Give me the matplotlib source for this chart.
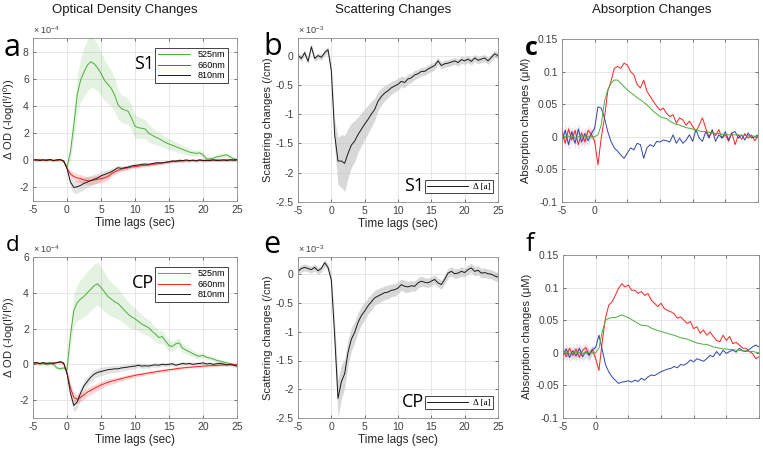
import numpy as np
import matplotlib
matplotlib.use('Agg')
import matplotlib.pyplot as plt
from matplotlib.ticker import FormatStrFormatter

plt.rcParams['font.family'] = ['Liberation Sans', 'DejaVu Sans']
plt.rcParams['mathtext.fontset'] = 'custom'
plt.rcParams['mathtext.rm'] = 'Liberation Sans'
plt.rcParams['mathtext.it'] = 'Liberation Sans:italic'
plt.rcParams['axes.unicode_minus'] = False

# time axis, -5 to 25 s in 0.5 s steps
t = np.arange(-5, 25.5, 0.5)

# ---- optical density, S1 (x 1e-4) ----
od_s1_525 = [0.05, 0.0, 0.08, -0.02, 0.05, 0.0, -0.05, 0.03, 0.05, -0.1,
             -0.5, 0.6, 2.6, 4.8, 5.9, 6.5, 7.0, 7.25, 7.1, 6.8,
             6.4, 5.9, 5.6, 5.3, 4.8, 4.1, 3.8, 3.7, 3.6, 3.1,
             2.5, 2.4, 2.35, 2.3, 2.0, 1.85, 1.7, 1.6, 1.45, 1.3,
             1.2, 1.1, 1.0, 0.9, 0.8, 0.7, 0.6, 0.55, 0.5, 0.55,
             0.4, 0.1, 0.1, 0.15, 0.25, 0.3, 0.35, 0.4, 0.25, 0.1,
             0.05]
od_s1_525_sd = [0.1, 0.1, 0.1, 0.1, 0.1, 0.1, 0.1, 0.1, 0.1, 0.1,
                0.2, 0.6, 1.0, 1.4, 1.6, 1.8, 1.9, 1.9, 1.8, 1.7,
                1.6, 1.5, 1.4, 1.3, 1.2, 1.1, 1.0, 1.0, 0.95, 0.9,
                0.85, 0.8, 0.75, 0.7, 0.65, 0.6, 0.55, 0.5, 0.45, 0.42,
                0.4, 0.38, 0.35, 0.33, 0.3, 0.28, 0.26, 0.24, 0.22, 0.2,
                0.2, 0.18, 0.17, 0.16, 0.15, 0.15, 0.15, 0.15, 0.15, 0.15,
                0.15]
od_s1_660 = [0.05, -0.02, 0.03, 0.0, -0.03, 0.04, 0.0, -0.02, 0.03, -0.05,
             -0.6, -1.0, -1.2, -1.3, -1.35, -1.45, -1.5, -1.5, -1.45, -1.4,
             -1.35, -1.3, -1.2, -1.0, -0.85, -0.75, -0.65, -0.6, -0.55, -0.5,
             -0.47, -0.43, -0.4, -0.38, -0.35, -0.3, -0.28, -0.25, -0.2, -0.15,
             -0.12, -0.1, -0.05, -0.08, -0.05, -0.03, -0.05, 0.0, -0.02, 0.02,
             0.0, -0.03, 0.02, 0.0, 0.03, 0.0, 0.02, 0.04, 0.02, 0.05,
             0.05]
od_s1_660_sd = [0.05, 0.05, 0.05, 0.05, 0.05, 0.05, 0.05, 0.05, 0.05, 0.05,
                0.15, 0.25, 0.3, 0.3, 0.3, 0.3, 0.3, 0.3, 0.3, 0.3,
                0.3, 0.28, 0.25, 0.22, 0.2, 0.18, 0.16, 0.15, 0.14, 0.13,
                0.12, 0.12, 0.11, 0.11, 0.1, 0.1, 0.1, 0.1, 0.1, 0.1,
                0.1, 0.1, 0.1, 0.1, 0.1, 0.1, 0.1, 0.1, 0.1, 0.1,
                0.1, 0.1, 0.1, 0.1, 0.1, 0.1, 0.1, 0.1, 0.1, 0.1,
                0.1]
od_s1_810 = [0.02, 0.05, -0.03, 0.04, 0.0, 0.06, -0.02, 0.03, 0.05, -0.05,
             -0.6, -1.6, -2.0, -1.95, -1.85, -1.7, -1.6, -1.5, -1.4, -1.3,
             -1.15, -1.05, -0.95, -0.85, -0.7, -0.55, -0.6, -0.55, -0.5, -0.42,
             -0.38, -0.35, -0.3, -0.28, -0.3, -0.25, -0.2, -0.18, -0.2, -0.15,
             -0.12, -0.05, -0.08, 0.0, -0.03, 0.02, -0.02, 0.0, -0.05, 0.02,
             -0.03, 0.0, -0.02, 0.03, -0.02, 0.0, 0.02, -0.02, 0.03, 0.0,
             0.05]
od_s1_810_sd = [0.05, 0.05, 0.05, 0.05, 0.05, 0.05, 0.05, 0.05, 0.05, 0.05,
                0.2, 0.35, 0.45, 0.45, 0.45, 0.42, 0.4, 0.38, 0.36, 0.34,
                0.32, 0.3, 0.28, 0.25, 0.22, 0.2, 0.18, 0.16, 0.15, 0.14,
                0.13, 0.12, 0.12, 0.11, 0.1, 0.1, 0.1, 0.1, 0.1, 0.1,
                0.1, 0.1, 0.1, 0.1, 0.1, 0.1, 0.1, 0.1, 0.1, 0.1,
                0.1, 0.1, 0.1, 0.1, 0.1, 0.1, 0.1, 0.1, 0.1, 0.1,
                0.1]

# ---- optical density, CP (x 1e-4) ----
od_cp_525 = [0.05, 0.08, 0.02, 0.05, -0.02, 0.03, 0.0, -0.2, -0.25, -0.2,
             -0.3, 1.6, 3.0, 3.45, 3.65, 3.8, 4.0, 4.2, 4.4, 4.5,
             4.3, 4.05, 3.8, 3.65, 3.5, 3.4, 3.2, 3.0, 2.8, 2.65,
             2.55, 2.4, 2.25, 2.15, 2.05, 1.85, 1.7, 1.5, 1.55, 1.3,
             1.05, 1.0, 1.15, 1.2, 0.9, 0.8, 0.7, 0.6, 0.5, 0.45,
             0.5, 0.4, 0.35, 0.3, 0.22, 0.18, 0.13, 0.08, 0.04, 0.0,
             -0.05]
od_cp_525_sd = [0.1, 0.1, 0.1, 0.1, 0.1, 0.1, 0.1, 0.1, 0.1, 0.1,
                0.2, 0.6, 0.9, 1.0, 1.1, 1.15, 1.2, 1.2, 1.2, 1.2,
                1.15, 1.1, 1.0, 0.95, 0.9, 0.85, 0.8, 0.75, 0.7, 0.65,
                0.6, 0.55, 0.5, 0.48, 0.45, 0.42, 0.4, 0.38, 0.35, 0.32,
                0.3, 0.28, 0.26, 0.25, 0.24, 0.22, 0.2, 0.18, 0.16, 0.15,
                0.14, 0.13, 0.12, 0.12, 0.11, 0.1, 0.1, 0.1, 0.1, 0.1,
                0.1]
od_cp_660 = [0.05, 0.08, 0.03, 0.06, 0.02, 0.05, 0.08, 0.1, 0.12, 0.05,
             -0.5, -1.3, -1.85, -1.95, -1.85, -1.7, -1.55, -1.45, -1.35, -1.25,
             -1.15, -1.08, -1.0, -0.95, -0.9, -0.85, -0.8, -0.75, -0.7, -0.66,
             -0.62, -0.58, -0.55, -0.52, -0.48, -0.45, -0.42, -0.39, -0.36, -0.33,
             -0.3, -0.28, -0.25, -0.22, -0.2, -0.18, -0.16, -0.15, -0.13, -0.12,
             -0.1, -0.09, -0.08, -0.07, -0.06, -0.05, -0.04, -0.03, -0.02, -0.01,
             0.0]
od_cp_660_sd = [0.05, 0.05, 0.05, 0.05, 0.05, 0.05, 0.05, 0.05, 0.05, 0.05,
                0.15, 0.2, 0.25, 0.25, 0.25, 0.25, 0.24, 0.23, 0.22, 0.21,
                0.2, 0.19, 0.18, 0.17, 0.16, 0.15, 0.14, 0.13, 0.12, 0.12,
                0.11, 0.11, 0.1, 0.1, 0.1, 0.09, 0.09, 0.09, 0.08, 0.08,
                0.08, 0.08, 0.07, 0.07, 0.07, 0.07, 0.06, 0.06, 0.06, 0.06,
                0.06, 0.05, 0.05, 0.05, 0.05, 0.05, 0.05, 0.05, 0.05, 0.05,
                0.05]
od_cp_810 = [0.08, 0.1, 0.05, 0.1, 0.06, 0.08, 0.05, 0.1, 0.15, 0.08,
             -0.5, -1.6, -2.3, -2.1, -1.6, -1.2, -0.95, -0.72, -0.55, -0.45,
             -0.4, -0.35, -0.3, -0.28, -0.25, -0.25, -0.2, -0.18, -0.15, -0.12,
             -0.1, -0.05, -0.1, -0.08, -0.1, -0.05, -0.03, -0.05, 0.0, -0.02,
             0.0, 0.03, -0.05, 0.0, 0.05, 0.02, 0.05, 0.0, 0.03, 0.05,
             0.08, 0.02, 0.05, 0.0, 0.03, 0.05, 0.02, -0.03, 0.0, -0.05,
             -0.1]
od_cp_810_sd = [0.05, 0.05, 0.05, 0.05, 0.05, 0.05, 0.05, 0.05, 0.05, 0.05,
                0.2, 0.3, 0.35, 0.35, 0.3, 0.28, 0.27, 0.26, 0.25, 0.24,
                0.23, 0.22, 0.21, 0.2, 0.19, 0.18, 0.17, 0.16, 0.15, 0.15,
                0.14, 0.14, 0.13, 0.13, 0.12, 0.12, 0.12, 0.12, 0.12, 0.12,
                0.11, 0.11, 0.11, 0.11, 0.1, 0.1, 0.1, 0.1, 0.1, 0.1,
                0.1, 0.1, 0.1, 0.1, 0.1, 0.1, 0.1, 0.1, 0.1, 0.1,
                0.1]

# ---- scattering (x 1e-3 /cm) ----
sc_s1 = [0.0, -0.05, 0.05, -0.1, 0.15, -0.05, 0.0, -0.03, 0.05, 0.1,
         -0.26, -1.35, -1.8, -1.8, -1.84, -1.67, -1.53, -1.46, -1.35, -1.26,
         -1.17, -1.09, -1.0, -0.92, -0.78, -0.7, -0.64, -0.6, -0.55, -0.52,
         -0.49, -0.44, -0.46, -0.4, -0.38, -0.33, -0.31, -0.27, -0.27, -0.23,
         -0.2, -0.17, -0.09, -0.17, -0.14, -0.13, -0.11, -0.09, -0.12, -0.07,
         -0.09, -0.06, -0.1, -0.04, -0.08, -0.06, -0.04, -0.09, -0.03, 0.03,
         0.0]
sc_s1_sd = [0.05, 0.05, 0.05, 0.05, 0.05, 0.05, 0.05, 0.05, 0.05, 0.05,
            0.1, 0.25, 0.4, 0.45, 0.48, 0.42, 0.38, 0.35, 0.3, 0.28,
            0.26, 0.24, 0.22, 0.19, 0.16, 0.14, 0.13, 0.12, 0.11, 0.1,
            0.1, 0.09, 0.09, 0.08, 0.08, 0.08, 0.07, 0.07, 0.07, 0.07,
            0.07, 0.07, 0.06, 0.06, 0.06, 0.06, 0.06, 0.06, 0.06, 0.06,
            0.06, 0.06, 0.06, 0.06, 0.06, 0.06, 0.06, 0.06, 0.06, 0.06,
            0.06]
sc_cp = [0.05, 0.1, 0.12, 0.1, 0.08, 0.12, 0.06, 0.1, 0.2, 0.12,
         -0.1, -1.07, -2.16, -1.87, -1.73, -1.36, -1.13, -1.01, -0.84, -0.72,
         -0.64, -0.55, -0.48, -0.41, -0.38, -0.35, -0.32, -0.31, -0.28, -0.27,
         -0.24, -0.18, -0.21, -0.22, -0.2, -0.21, -0.15, -0.12, -0.14, -0.15,
         -0.12, -0.09, -0.15, -0.18, -0.09, 0.02, 0.05, 0.01, 0.02, 0.05,
         0.03, 0.08, 0.11, 0.05, 0.07, 0.02, 0.03, 0.01, 0.0, -0.03,
         -0.05]
sc_cp_sd = [0.06, 0.06, 0.06, 0.06, 0.06, 0.06, 0.06, 0.06, 0.06, 0.06,
            0.1, 0.25, 0.32, 0.3, 0.25, 0.22, 0.2, 0.18, 0.17, 0.16,
            0.15, 0.14, 0.14, 0.13, 0.13, 0.12, 0.12, 0.12, 0.11, 0.11,
            0.1, 0.1, 0.1, 0.1, 0.09, 0.09, 0.09, 0.09, 0.08, 0.08,
            0.08, 0.08, 0.08, 0.08, 0.08, 0.08, 0.08, 0.08, 0.08, 0.08,
            0.08, 0.08, 0.08, 0.08, 0.08, 0.08, 0.08, 0.08, 0.08, 0.08,
            0.08]

# ---- absorption (uM) ----
ab_s1_red = [0.008, -0.01, 0.012, -0.005, 0.01, -0.012, 0.006, -0.008, 0.01, 0.004,
             -0.007, -0.043, -0.002, 0.029, 0.07, 0.085, 0.105, 0.108, 0.105, 0.113,
             0.11, 0.1, 0.095, 0.08, 0.075, 0.087, 0.07, 0.062, 0.054, 0.047,
             0.041, 0.044, 0.036, 0.031, 0.034, 0.021, 0.029, 0.026, 0.018, 0.024,
             0.016, 0.008, 0.018, 0.029, 0.013, 0.0, 0.008, 0.002, 0.011, -0.002,
             0.003, -0.007, 0.006, -0.012, 0.003, -0.004, 0.005, -0.002, 0.003, -0.006,
             0.001]
ab_s1_green = [0.0, 0.0, 0.001, 0.0, -0.001, 0.0, 0.001, 0.0, 0.0, 0.0,
               0.0, 0.003, 0.018, 0.054, 0.072, 0.082, 0.087, 0.087, 0.082, 0.077,
               0.072, 0.068, 0.064, 0.06, 0.057, 0.053, 0.049, 0.044, 0.039, 0.035,
               0.031, 0.029, 0.028, 0.024, 0.021, 0.019, 0.018, 0.016, 0.014, 0.013,
               0.012, 0.01, 0.009, 0.008, 0.008, 0.007, 0.006, 0.005, 0.005, 0.004,
               0.004, 0.003, 0.003, 0.003, 0.003, 0.002, 0.002, 0.002, 0.001, 0.001,
               0.0]
ab_s1_blue = [-0.005, 0.01, -0.012, 0.008, -0.01, 0.012, -0.008, 0.005, -0.006, 0.005,
              0.013, 0.046, 0.044, 0.029, 0.008, -0.007, -0.017, -0.022, -0.028, -0.033,
              -0.025, -0.017, -0.02, -0.01, -0.012, -0.033, -0.017, -0.012, -0.015, -0.007,
              -0.008, -0.005, -0.006, -0.008, 0.003, -0.01, -0.002, -0.01, -0.005, 0.003,
              -0.007, 0.011, -0.002, -0.007, 0.008, -0.002, 0.011, -0.007, 0.003, -0.002,
              0.008, -0.005, 0.006, 0.008, -0.002, 0.003, -0.005, 0.006, -0.002, 0.0,
              0.003]
ab_s1_pre_sd = [0.008, 0.009, 0.008, 0.009, 0.008, 0.009, 0.008, 0.009, 0.008, 0.007, 0.004]

ab_cp_red = [0.005, -0.006, 0.007, -0.004, 0.006, -0.007, 0.004, 0.008, -0.003, 0.005,
             -0.009, -0.027, 0.017, 0.053, 0.073, 0.078, 0.088, 0.099, 0.106, 0.101,
             0.104, 0.096, 0.096, 0.091, 0.094, 0.088, 0.091, 0.081, 0.076, 0.071,
             0.076, 0.068, 0.065, 0.063, 0.06, 0.053, 0.055, 0.05, 0.045, 0.048,
             0.037, 0.04, 0.03, 0.035, 0.027, 0.032, 0.025, 0.019, 0.017, 0.027,
             0.019, 0.025, 0.014, 0.016, 0.012, 0.007, 0.007, 0.002, -0.001, -0.009,
             -0.006]
ab_cp_green = [0.0, 0.001, -0.001, 0.0, 0.001, 0.0, -0.001, 0.0, 0.001, 0.0,
               0.0, 0.007, 0.032, 0.05, 0.053, 0.054, 0.054, 0.056, 0.058, 0.056,
               0.054, 0.051, 0.048, 0.045, 0.042, 0.042, 0.041, 0.038, 0.036, 0.034,
               0.033, 0.031, 0.03, 0.028, 0.027, 0.025, 0.023, 0.022, 0.021, 0.019,
               0.017, 0.015, 0.014, 0.013, 0.013, 0.011, 0.009, 0.008, 0.007, 0.006,
               0.006, 0.005, 0.005, 0.004, 0.004, 0.003, 0.003, 0.002, 0.002, 0.001,
               0.0]
ab_cp_blue = [-0.004, 0.006, -0.007, 0.003, -0.005, 0.007, -0.006, 0.002, -0.004, 0.005,
              0.008, 0.027, 0.005, -0.018, -0.029, -0.037, -0.042, -0.047, -0.045, -0.044,
              -0.043, -0.045, -0.042, -0.044, -0.039, -0.042, -0.037, -0.034, -0.035, -0.032,
              -0.029, -0.027, -0.025, -0.024, -0.021, -0.023, -0.018, -0.019, -0.016, -0.011,
              -0.014, -0.009, -0.011, -0.013, -0.009, -0.004, -0.006, 0.002, -0.004, 0.004,
              -0.001, 0.002, 0.004, 0.001, 0.007, 0.003, 0.002, 0.005, 0.009, 0.012,
              0.009]
ab_cp_pre_sd = [0.007, 0.008, 0.007, 0.008, 0.009, 0.008, 0.007, 0.008, 0.009, 0.006, 0.004]

wavelengths = ['525nm', '660nm', '810nm']
GREEN = '#4cae3a'
RED = '#ff1f1f'
BLACK = '#1a1a1a'
BLUE = '#2f45a6'


def style(ax, ylim, yticks):
    ax.set_xlim(-5, 25)
    ax.set_xticks(np.arange(-5, 26, 5))
    ax.set_ylim(ylim)
    ax.set_yticks(yticks)
    ax.yaxis.set_major_formatter(FormatStrFormatter('%g'))
    ax.grid(True, color='#e2e2e2', linewidth=0.6)
    ax.set_axisbelow(True)
    ax.tick_params(direction='in', length=2.5, width=0.5, labelsize=7.5,
                   colors='#404040', top=True, right=True, pad=3)
    for s in ax.spines.values():
        s.set_color('#8c8c8c')
        s.set_linewidth(0.6)


def band(ax, x, y, sd, color, alpha):
    y = np.array(y)
    sd = np.array(sd)
    ax.fill_between(x, y - sd, y + sd, color=color, alpha=alpha, linewidth=0)


fig = plt.figure(figsize=(7.63, 4.53), dpi=100)
W, H = 763.0, 453.0


def add_axes(l, r, top, bot):
    return fig.add_axes([l / W, 1 - bot / H, (r - l) / W, (bot - top) / H])


ax_a = add_axes(33, 237, 38, 201)
ax_b = add_axes(298, 498, 38, 202)
ax_c = add_axes(562, 758, 39, 202)
ax_d = add_axes(33, 237, 257, 418)
ax_e = add_axes(298, 498, 257, 418)
ax_f = add_axes(563, 759, 255, 418)

# optical density panels
for ax, g, gs, r, rs, k, ks, tag, ylim, yt in [
        (ax_a, od_s1_525, od_s1_525_sd, od_s1_660, od_s1_660_sd, od_s1_810, od_s1_810_sd,
         'S1', (-3, 9), [-2, 0, 2, 4, 6, 8]),
        (ax_d, od_cp_525, od_cp_525_sd, od_cp_660, od_cp_660_sd, od_cp_810, od_cp_810_sd,
         'CP', (-3, 6), [-2, 0, 2, 4, 6])]:
    band(ax, t, g, gs, GREEN, 0.15)
    band(ax, t, k, ks, '#909090', 0.25)
    band(ax, t, r, rs, RED, 0.18)
    l1, = ax.plot(t, g, color=GREEN, lw=0.7)
    l2, = ax.plot(t, r, color=RED, lw=0.7)
    l3, = ax.plot(t, k, color=BLACK, lw=0.7)
    style(ax, ylim, yt)
    leg = ax.legend([l1, l2, l3], wavelengths, loc='upper right',
                    bbox_to_anchor=(0.955, 0.94), borderaxespad=0, fontsize=6.5,
                    handlelength=3.6, labelspacing=0.15, borderpad=0.3,
                    handletextpad=0.8, fancybox=False, framealpha=1)
    leg.get_frame().set_edgecolor('#262626')
    leg.get_frame().set_linewidth(0.6)
    ax.text(0.595, 0.84, tag, transform=ax.transAxes, fontsize=13,
            family='Open Sans', ha='right', va='center')
    ax.text(0.0, 1.01, '× 10$^{-4}$', transform=ax.transAxes, fontsize=6.5,
            color='#404040', ha='left', va='bottom')
    ax.set_xlabel('Time lags (sec)', fontsize=8.5, color='#262626', labelpad=1)
    ax.set_ylabel(r'$\Delta$ OD (-log(I$^{\mathrm{t}}$/I$^{\mathrm{0}}$))',
                  fontsize=8, color='#262626', labelpad=2)

# scattering panels
for ax, y, sd, tag in [(ax_b, sc_s1, sc_s1_sd, 'S1'), (ax_e, sc_cp, sc_cp_sd, 'CP')]:
    band(ax, t, y, sd, '#c8c8c8', 0.7)
    ln, = ax.plot(t, y, color=BLACK, lw=0.7)
    style(ax, (-2.5, 0.3), [-2.5, -2, -1.5, -1, -0.5, 0])
    leg = ax.legend([ln], ['Δ [a]'], loc='lower right', bbox_to_anchor=(0.975, 0.055),
                    borderaxespad=0, prop={'family': 'Liberation Serif', 'size': 6.5},
                    handlelength=4.5, borderpad=0.25, handletextpad=0.6,
                    fancybox=False, framealpha=1)
    leg.get_frame().set_edgecolor('#262626')
    leg.get_frame().set_linewidth(0.6)
    ax.text(0.63, 0.1, tag, transform=ax.transAxes, fontsize=13,
            family='Open Sans', ha='right', va='center')
    ax.text(0.0, 1.01, '× 10$^{-3}$', transform=ax.transAxes, fontsize=6.5,
            color='#404040', ha='left', va='bottom')
    ax.set_xlabel('Time lags (sec)', fontsize=8.5, color='#262626', labelpad=1)
    ax.set_ylabel('Scattering changes (/cm)', fontsize=8, color='#262626', labelpad=2)

# absorption panels
for ax, r, g, b, pre in [(ax_c, ab_s1_red, ab_s1_green, ab_s1_blue, ab_s1_pre_sd),
                         (ax_f, ab_cp_red, ab_cp_green, ab_cp_blue, ab_cp_pre_sd)]:
    band(ax, t[:11], b[:11], pre, BLUE, 0.15)
    band(ax, t[:11], r[:11], pre, RED, 0.12)
    ax.plot(t, r, color=RED, lw=0.7)
    ax.plot(t, b, color=BLUE, lw=0.7)
    ax.plot(t, g, color=GREEN, lw=0.7)
    style(ax, (-0.1, 0.15), [-0.1, -0.05, 0, 0.05, 0.1, 0.15])
    ax.set_xticklabels(['-5', '0', '', '', '', '', ''])
    ax.set_ylabel('Absorption changes (μM)', fontsize=8, color='#262626', labelpad=2)

# column titles
for x, s in [(125, 'Optical Density Changes'), (393, 'Scattering Changes'),
             (652, 'Absorption Changes')]:
    fig.text(x / W, 1 - 13 / H, s, fontsize=9.5, ha='center', va='baseline',
             color='#1a1a1a')

# panel letters
for x, y, s, size, wt in [(12.5, 56, 'a', 22, 'normal'), (273, 55, 'b', 22, 'normal'),
                          (531, 55, 'c', 18, 'bold'), (12.5, 251, 'd', 16, 'normal'),
                          (272, 253, 'e', 22, 'normal'), (530, 251, 'f', 18, 'normal')]:
    fig.text(x / W, 1 - y / H, s, fontsize=size, weight=wt, family='Open Sans',
             ha='center', va='baseline', color='black')

fig.savefig('out.png', dpi=100)
